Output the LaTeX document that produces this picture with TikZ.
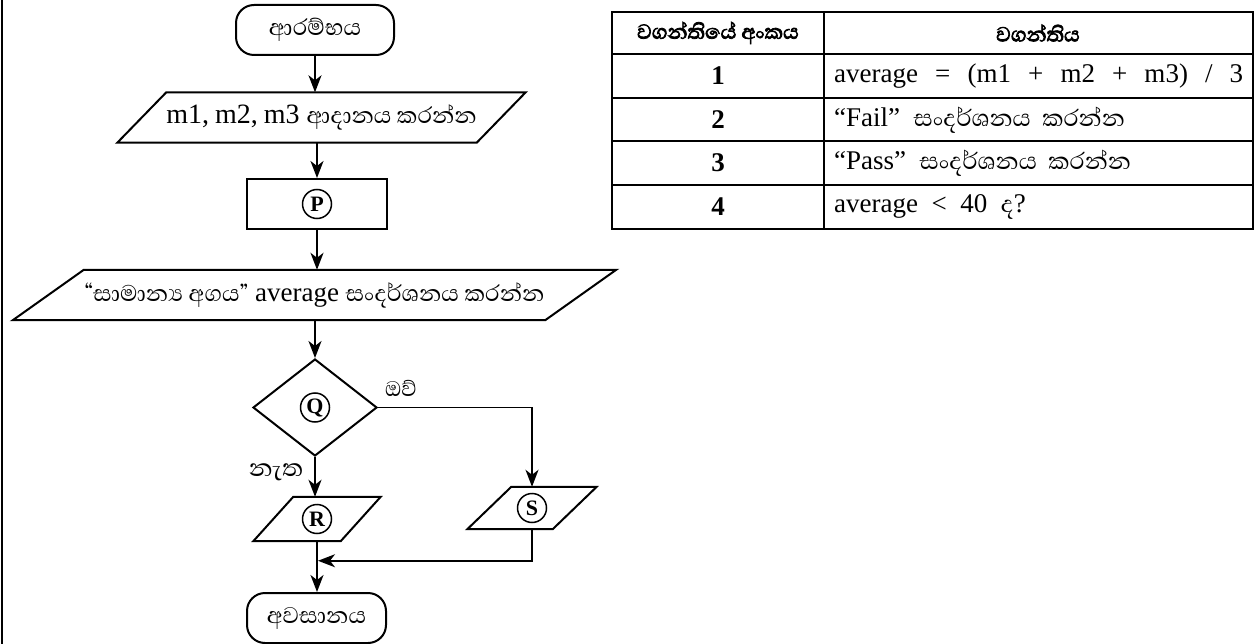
\documentclass[tikz,border=0pt]{standalone}
\usepackage{fontspec}
\setmainfont{Liberation Serif}
\newfontfamily\sinfont[Script=Sinhala]{Abhaya Libre}
\newfontfamily\sinhead[Script=Sinhala,FakeBold=3]{Abhaya Libre}
\usetikzlibrary{shapes.geometric,arrows.meta,calc}
\newcommand\drawpara[2]{\draw[line width=2pt] ([xshift=#2*0.5pt]#1.north west) -- ([xshift=#2*0.5pt]#1.north east) -- ([xshift=-#2*0.5pt]#1.south east) -- ([xshift=-#2*0.5pt]#1.south west) -- cycle;}
\newcommand\fL{\fontsize{27}{32}\selectfont}
\newcommand\fT{\fontsize{27}{32}\selectfont}
\newcommand\fS{\fontsize{29}{34}\selectfont\sinfont}
\newcommand\fTS{\fontsize{30}{34}\selectfont\sinfont}
\begin{document}
\begin{tikzpicture}[x=1pt,y=-1pt,
  conn/.style={line width=1.8pt,-{Stealth[length=17pt,width=13pt,inset=5pt]}},
  term/.style={draw,line width=2pt,rounded corners=18pt,minimum width=158pt,minimum height=50pt,inner sep=0pt},
  proc/.style={draw,line width=2pt,minimum width=140pt,minimum height=50pt,inner sep=0pt},
  io/.style={inner sep=0pt},
  circ/.style={circle,draw,line width=1.5pt,inner sep=0pt,minimum size=29pt,font=\fontsize{22}{22}\selectfont\bfseries},
  dec/.style={diamond,draw,line width=2pt,inner sep=0pt,minimum width=124pt,minimum height=97pt},
  lab/.style={inner sep=0pt},
  cellc/.style={inner sep=0pt,anchor=center},
  celll/.style={inner sep=0pt,anchor=west},
  tline/.style={line width=1.8pt}
]
\useasboundingbox (0,0) rectangle (1260,644);
\draw[line width=2pt] (1.5,0) -- (1.5,644);

% flowchart
\node[term] (start) at (315,30) {\fS ආරම්භය};
\node[io,minimum width=359pt,minimum height=50pt] (in) at (321.5,117.5) {\fontsize{28}{32}\selectfont m1,\hspace{6pt}m2,\hspace{6pt}m3 {\fS ආදානය කරන්න}};
\drawpara{in}{49}
\node[proc] (p) at (317,204) {};
\node[circ] (plab) at (p.center) {P};
\node[io,minimum width=532pt,minimum height=50pt] (out) at (314.5,295) {\fL {\fS “සාමාන්‍ය අගය”} average {\fS සංදර්ශනය කරන්න}};
\drawpara{out}{71}
\node[dec] (q) at (315,407.5) {};
\node[circ] (qlab) at (q.center) {Q};
\node[io,minimum width=87pt,minimum height=44pt] (r) at (317,519) {};
\drawpara{r}{40}
\node[circ] (rlab) at (r.center) {R};
\node[io,minimum width=85pt,minimum height=42pt] (s) at (532,508) {};
\drawpara{s}{44}
\node[circ] (slab) at (s.center) {S};
\node[term,minimum width=139pt] (end) at (316.5,618) {\fS අවසානය};
\node[lab] (yes) at (401,388) {\fontsize{27}{30}\selectfont\sinfont ඔව්};
\node[lab] (no) at (276,472) {\fontsize{31}{34}\selectfont\sinfont නැත};

\draw[conn] (start.south) -- (start.south |- in.north);
\draw[conn] (p.north |- in.south) -- (p.north);
\draw[conn] (p.south) -- (p.south |- out.north);
\draw[conn] (q.north |- out.south) -- (q.north);
\draw[conn] (q.east) -| (s.north);
\draw[conn] (q.south) -- (q.south |- r.north);
\draw[conn] (r.south) -- (r.south |- end.north);
\coordinate (m) at ($(r.south)!0.385!(r.south |- end.north)$);
\draw[conn] (s.south) |- ([xshift=1pt]m);

% table
\draw[tline] (612,12) rectangle (1253,229);
\draw[tline] (824,12) -- (824,229);
\foreach \yy in {54,98,141,185} \draw[tline] (612,\yy) -- (1253,\yy);
\node[cellc] (h1) at (718,33) {\fontsize{26}{28}\selectfont\sinhead වගන්තියේ අංකය};
\node[cellc] (h2) at (1038,33) {\fontsize{26}{28}\selectfont\sinhead වගන්තිය};
\node[cellc] (n1) at (718,76) {\fT\bfseries 1};
\node[cellc] (n2) at (718,120) {\fT\bfseries 2};
\node[cellc] (n3) at (718,163) {\fT\bfseries 3};
\node[cellc] (n4) at (718,207) {\fT\bfseries 4};
\node[celll] (t1) at (834,76) {\fT\makebox[409pt][s]{average = (m1 + m2 + m3) / 3}};
\node[celll] (t2) at (834,120) {\fT “Fail”\ \ {\fTS සංදර්ශනය\ \ කරන්න}};
\node[celll] (t3) at (834,163) {\fT “Pass”\ \ {\fTS සංදර්ශනය\ \ කරන්න}};
\node[celll] (t4) at (834,207) {\fT average\ \ <\ \ 40\ \ {\fTS ද}?};
\end{tikzpicture}
\end{document}
